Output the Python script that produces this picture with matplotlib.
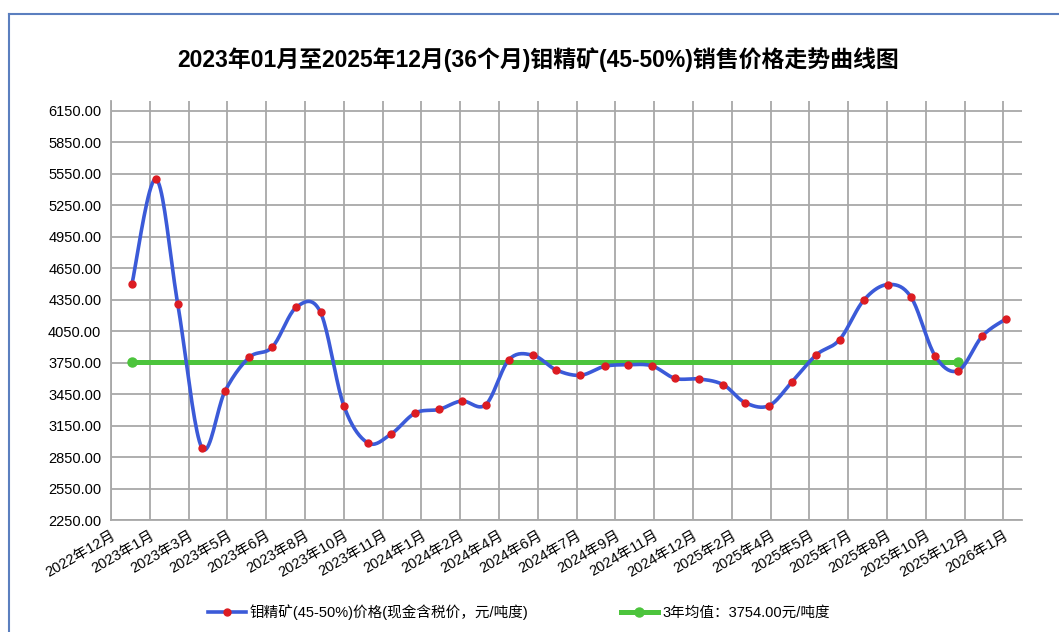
import numpy as np
import pandas as pd
import matplotlib
matplotlib.use('Agg')
from matplotlib import pyplot as plt
import matplotlib.dates as mdates
from matplotlib.lines import Line2D
from matplotlib.legend_handler import HandlerTuple

plt.rcParams['font.family'] = ['Liberation Sans', 'Noto Sans CJK SC', 'DejaVu Sans']

# monthly prices, Jan 2023 .. Feb 2026
months = pd.date_range('2023-01-01', '2026-02-01', freq='MS')
price = [4500, 5500, 4310, 2940, 3480, 3800, 3900, 4280, 4230, 3340,
         2985, 3070, 3270, 3305, 3385, 3350, 3780, 3820, 3680, 3630,
         3715, 3730, 3720, 3600, 3595, 3540, 3370, 3340, 3570, 3825,
         3970, 4345, 4495, 4375, 3815, 3675, 4005, 4170]
avg = 3754.00
n_avg = 36  # 36 months used for the average

tick_dates = pd.date_range('2022-12-05', periods=24, freq='50D')
y_ticks = np.arange(2250, 6151, 300)

title = '2023年01月至2025年12月(36个月)钼精矿(45-50%)销售价格走势曲线图'
label_price = '钼精矿(45-50%)价格(现金含税价，元/吨度)'
label_avg = '3年均值：3754.00元/吨度'

blue = '#3b5ad8'
red = '#dc1c22'
green = '#4cc43c'
grid_c = '#a8a8a8'


def smooth(x, y, steps=20):
    # excel-like smoothed line (cubic bezier through points)
    x = np.asarray(x, float)
    y = np.asarray(y, float)
    p = np.column_stack([x, y])
    pp = np.vstack([p[0], p, p[-1]])
    out = []
    for i in range(len(p) - 1):
        p0, p1, p2, p3 = pp[i], pp[i + 1], pp[i + 2], pp[i + 3]
        c1 = p1 + (p2 - p0) / 6
        c2 = p2 - (p3 - p1) / 6
        t = np.linspace(0, 1, steps, endpoint=False)[:, None]
        seg = ((1 - t) ** 3) * p1 + 3 * ((1 - t) ** 2) * t * c1 + 3 * (1 - t) * t ** 2 * c2 + t ** 3 * p2
        out.append(seg)
    out.append(p[-1:])
    out = np.vstack(out)
    return out[:, 0], out[:, 1]


fig = plt.figure(figsize=(10.59, 6.32), dpi=100)
ax = fig.add_axes([111 / 1059, 1 - 520 / 632, (1022 - 111) / 1059, (520 - 101) / 632])

xn = mdates.date2num(months)
sx, sy = smooth(xn, price)
l1, = ax.plot(sx, sy, color=blue, lw=2.6, zorder=3)
pts, = ax.plot(xn, price, 'o', color=red, ms=5, zorder=4, lw=0)
l2, = ax.plot([xn[0], xn[n_avg - 1]], [avg, avg], '-o', color=green, lw=3.6, ms=6.5, zorder=2)

ax.set_ylim(2250, 6245)
ax.set_xlim(mdates.date2num(tick_dates[0]), mdates.date2num(tick_dates[0]) + 1174)
ax.set_yticks(y_ticks)
ax.set_yticklabels([f'{v:.2f}' for v in y_ticks], fontsize=10.5)
ax.set_xticks(mdates.date2num(tick_dates))
ax.set_xticklabels([f'{d.year}年{d.month}月' for d in tick_dates], fontsize=10.5,
                   rotation=30, ha='right', rotation_mode='anchor')
ax.tick_params(length=0, pad=7)
ax.tick_params(axis='x', pad=6)
ax.grid(True, color=grid_c, lw=1.3)
ax.set_axisbelow(True)
for s in ['top', 'right']:
    ax.spines[s].set_visible(False)
for s in ['left', 'bottom']:
    ax.spines[s].set_color(grid_c)
    ax.spines[s].set_linewidth(1.3)

fig.text(0.508, 0.905, title, ha='center', va='center', fontsize=16.5, fontweight='bold')

fig.legend([(l1, pts), l2], [label_price, label_avg], loc='center',
           bbox_to_anchor=(519 / 1059, 1 - 612 / 632), ncol=2, frameon=False,
           fontsize=10.5, handlelength=2.6, handletextpad=0.3, columnspacing=6.3, numpoints=1,
           handler_map={tuple: HandlerTuple(ndivide=1)})

# outer frame
fig.add_artist(Line2D([9 / 1059, 1], [1 - 13.5 / 632] * 2, color='#5b7fbf', lw=1.5))
fig.add_artist(Line2D([9 / 1059] * 2, [0, 1 - 13.5 / 632], color='#5b7fbf', lw=1.5))

fig.savefig('out.png', dpi=100)
